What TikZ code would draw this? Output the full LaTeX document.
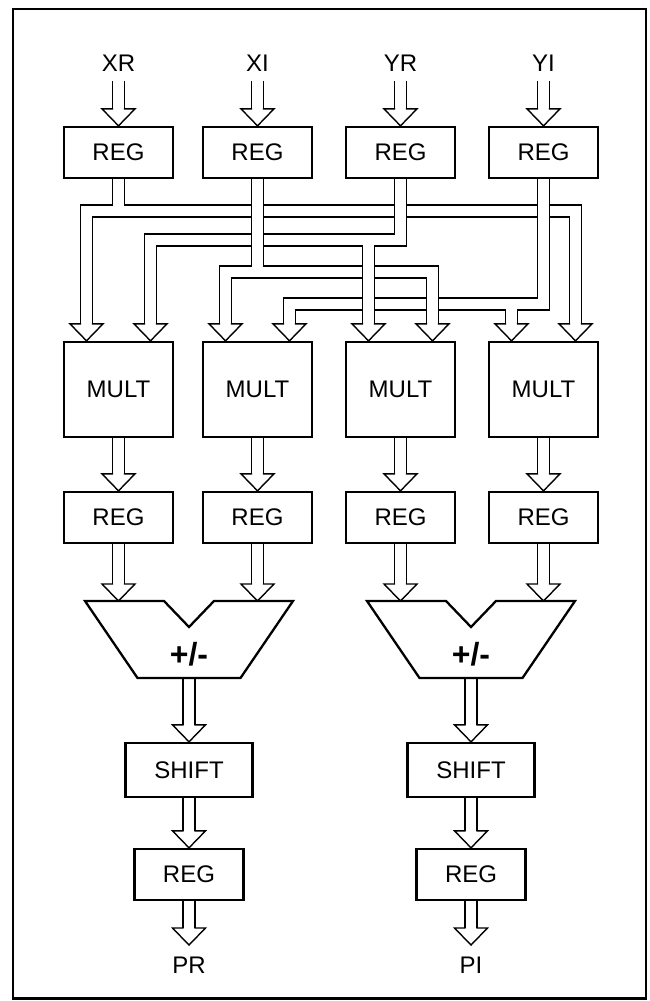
\documentclass[tikz,border=0pt]{standalone}
\usepackage{fontspec}
\setmainfont{Liberation Sans}
\usetikzlibrary{calc,backgrounds}

\tikzset{
  unit/.style={draw, line width=2.3pt, minimum width=109pt, minimum height=51pt,
    inner sep=0pt, font=\fontsize{24}{28}\selectfont},
  multunit/.style={unit, minimum height=95pt},
  shiftunit/.style={unit, minimum width=127pt, minimum height=54pt},
  sig/.style={inner sep=0pt, font=\fontsize{24}{28}\selectfont},
  busout/.style={line width=13.4pt},
  busin/.style={line width=10.6pt, white},
  bushead/.pic={\draw[line width=1.4pt, line cap=rect, line join=miter]
    (-6,-17) -- (-16.5,-17) -- (0,0) -- (16.5,-17) -- (6,-17);}
}

\begin{document}
\begin{tikzpicture}[x=1pt, y=-1pt]
  \useasboundingbox (0,0) rectangle (650,1001);
  \draw[line width=2.5pt] (13,9) rectangle (646,998.5);

  \foreach \n/\x/\t in {1/118.5/XR,2/257.5/XI,3/400.5/YR,4/543.5/YI} {
    \node[sig] (in\n) at (\x,63.5) {\t};
    \node[unit] (r\n) at (\x,152.5) {REG};
    \node[multunit] (m\n) at (\x,389.5) {MULT};
    \node[unit] (q\n) at (\x,517.5) {REG};
    \coordinate (a\n) at ($(m\n.north)+(-32,0)$);
    \coordinate (b\n) at ($(m\n.north)+(32,0)$);
  }

  % heights of the crossing buses
  \coordinate (chxr) at (0,211);
  \coordinate (chyr) at (0,240);
  \coordinate (chxi) at (0,272);
  \coordinate (chyi) at (0,304);

  \foreach \n/\x in {1/189,2/471} {
    \coordinate (ad\n) at (\x,601);
    \draw[line width=2.3pt, line join=miter] (ad\n) ++(-104,0) -- ++(79,0)
      -- ++(25,26) -- ++(25,-26) -- ++(79,0) -- ++(-52.5,77) -- ++(-103,0) -- cycle;
    \node[font=\fontsize{32}{36}\selectfont\bfseries] (pm\n) at ($(ad\n)+(0,53)$) {+/-};
    \coordinate (ao\n) at ($(ad\n)+(0,77)$);
    \node[shiftunit] (s\n) at (\x,770) {SHIFT};
    \node[unit] (o\n) at (\x,874.5) {REG};
    \coordinate (tip\n) at (\x,945);
  }
  \coordinate (ai1) at (q1.south |- ad1);
  \coordinate (ai2) at (q2.south |- ad1);
  \coordinate (ai3) at (q3.south |- ad2);
  \coordinate (ai4) at (q4.south |- ad2);
  \node[sig] (pr) at (189,965) {PR};
  \node[sig] (pi) at (471,965) {PI};

  \begin{pgfonlayer}{background}
    \foreach \st in {busout,busin}
      \draw[\st, line cap=rect] (a1 |- chxr) -- (b4 |- chxr)
        (b1 |- chyr) -- (r3.south |- chyr)
        (a2 |- chxi) -- (b3 |- chxi)
        (b2 |- chyi) -- (r4.south |- chyi);
    \foreach \st/\sh in {busout/6pt,busin/0pt} {
      \foreach \r/\ch in {r1/chxr,r2/chxi,r3/chyr,r4/chyi}
        \draw[\st, shorten >=\sh] (\r.south) -- (\r.south |- \ch);
      \foreach \m/\ch in {a1/chxr,b4/chxr,b1/chyr,a3/chyr,a2/chxi,b3/chxi,b2/chyi,a4/chyi}
        \draw[\st, shorten <=\sh, shorten >=17pt] (\m |- \ch) -- (\m);
    }
    \foreach \st in {busout,busin} {
      \foreach \n in {1,...,4}
        \draw[\st, shorten <=9pt, shorten >=17pt] (r\n.north |- in\n.south) -- (r\n.north);
      \foreach \s/\t in {m1.south/q1.north,m2.south/q2.north,m3.south/q3.north,
          m4.south/q4.north,q1.south/ai1,q2.south/ai2,q3.south/ai3,q4.south/ai4,
          ao1/s1.north,ao2/s2.north,s1.south/o1.north,s2.south/o2.north,
          o1.south/tip1,o2.south/tip2}
        \draw[\st, shorten >=17pt] (\s) -- (\t);
    }
    \foreach \t in {r1.north,r2.north,r3.north,r4.north,a1,b1,a2,b2,a3,b3,a4,b4,
        q1.north,q2.north,q3.north,q4.north,ai1,ai2,ai3,ai4,
        s1.north,s2.north,o1.north,o2.north,tip1,tip2}
      \pic at (\t) {bushead};
  \end{pgfonlayer}
\end{tikzpicture}
\end{document}
